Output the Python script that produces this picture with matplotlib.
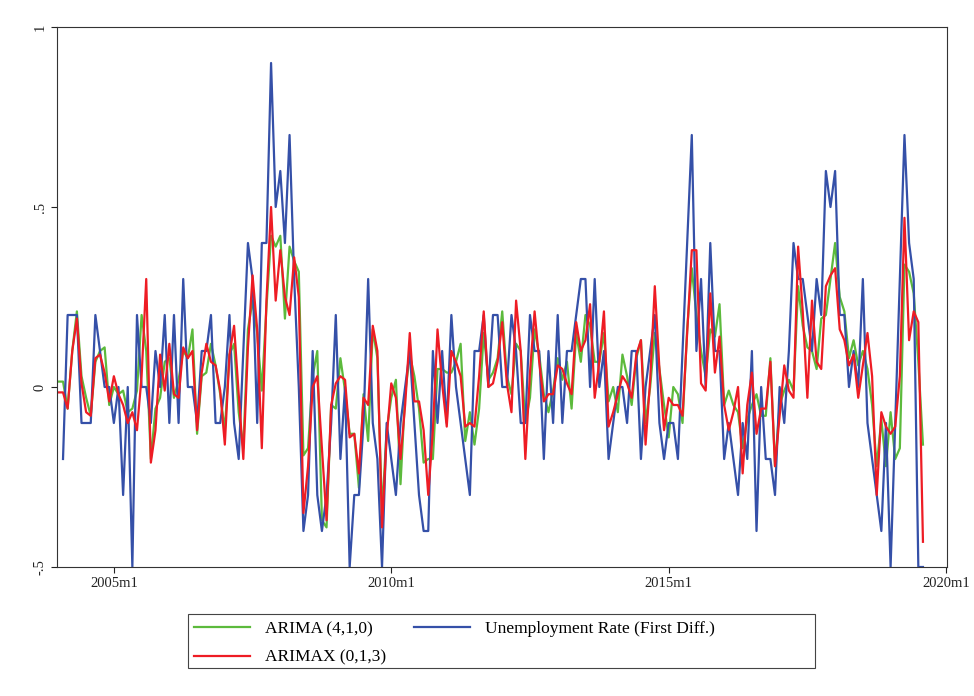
import numpy as np
import matplotlib.pyplot as plt
from matplotlib.patches import Rectangle

plt.rcParams['font.family'] = ['Liberation Serif', 'DejaVu Serif']

# monthly series, first month is 2004m1
start_year = 2004

unemp_diff = [
    np.nan, -0.2, 0.2, 0.2, 0.2, -0.1, -0.1, -0.1, 0.2, 0.1, 0.0, 0.0, -0.1, 0.0, -0.3, 0.0, -0.5, 0.2, 0.0, 0.0, -0.1, 0.1, 0.0, 0.2, -0.1,
    0.2, -0.1, 0.3, 0.0, 0.0, -0.1, 0.1, 0.1, 0.2, -0.1, -0.1, 0.0, 0.2, -0.1, -0.2, 0.1, 0.4, 0.3, -0.1, 0.4, 0.4, 0.9, 0.5, 0.6, 0.4,
    0.7, 0.3, 0.0, -0.4, -0.3, 0.1, -0.3, -0.4, -0.3, -0.1, 0.2, -0.2, 0.0, -0.5, -0.3, -0.3, -0.1, 0.3, -0.1, -0.2, -0.5, -0.1, -0.2, -0.3, -0.1,
    0.0, 0.1, -0.1, -0.3, -0.4, -0.4, 0.1, -0.1, 0.1, -0.1, 0.2, 0.0, -0.1, -0.2, -0.3, 0.1, 0.1, 0.2, 0.0, 0.2, 0.2, 0.0, 0.0, 0.2, 0.1,
    -0.1, -0.1, 0.2, 0.1, 0.1, -0.2, 0.1, -0.1, 0.2, -0.1, 0.1, 0.1, 0.2, 0.3, 0.3, 0.0, 0.3, 0.0, 0.1, -0.2, -0.1, 0.0, 0.0, -0.1, 0.1,
    0.1, -0.2, 0.0, 0.1, 0.2, -0.1, -0.2, -0.1, -0.1, -0.2, 0.1, 0.4, 0.7, 0.1, 0.3, 0.0, 0.4, 0.1, 0.1, -0.2, -0.1, -0.2, -0.3, -0.1, -0.2,
    0.1, -0.4, 0.0, -0.2, -0.2, -0.3, 0.0, -0.1, 0.1, 0.4, 0.3, 0.3, 0.2, 0.1, 0.3, 0.2, 0.6, 0.5, 0.6, 0.2, 0.2, 0.0, 0.1, 0.0, 0.3,
    -0.1, -0.2, -0.3, -0.4, -0.1, -0.5, -0.1, 0.3, 0.7, 0.4, 0.3, -0.5, -0.5,
]

arima_fit = [
    0.015, 0.015, -0.06, 0.1, 0.21, 0.03, -0.03, -0.08, 0.07, 0.1, 0.11, -0.05, 0.0, -0.02, -0.01, -0.07, -0.06, -0.01, 0.2, 0.1, -0.2, -0.06, -0.03, 0.07, 0.08,
    -0.03, 0.02, 0.1, 0.08, 0.16, -0.13, 0.03, 0.04, 0.12, 0.06, -0.02, -0.12, 0.09, 0.12, -0.07, -0.17, 0.16, 0.24, 0.15, -0.01, 0.22, 0.42, 0.39, 0.42, 0.19,
    0.39, 0.35, 0.32, -0.19, -0.17, 0.03, 0.1, -0.37, -0.39, -0.05, -0.06, 0.08, -0.01, -0.13, -0.13, -0.28, -0.02, -0.15, 0.16, 0.08, -0.35, -0.12, -0.03, 0.02, -0.27,
    -0.02, 0.09, 0.03, -0.06, -0.21, -0.2, -0.2, 0.05, 0.05, 0.04, 0.04, 0.07, 0.12, -0.15, -0.07, -0.16, -0.06, 0.15, 0.02, 0.04, 0.08, 0.21, 0.03, -0.02, 0.12,
    0.1, -0.1, -0.03, 0.16, 0.09, -0.02, -0.07, -0.01, 0.08, 0.02, 0.07, -0.06, 0.15, 0.07, 0.2, 0.17, 0.07, 0.07, 0.15, -0.04, 0.0, -0.07, 0.09, 0.03, -0.05,
    0.08, 0.13, -0.1, 0.0, 0.15, 0.05, -0.05, -0.14, 0.0, -0.02, -0.1, 0.16, 0.33, 0.2, 0.1, 0.03, 0.16, 0.14, 0.23, -0.05, -0.01, -0.05, -0.07, -0.17, -0.09,
    -0.05, -0.02, -0.08, -0.08, 0.08, -0.22, -0.05, -0.01, 0.02, -0.01, 0.28, 0.17, 0.11, 0.1, 0.05, 0.19, 0.2, 0.3, 0.4, 0.25, 0.21, 0.08, 0.13, 0.06, 0.1,
    0.05, -0.05, -0.22, -0.09, -0.22, -0.07, -0.2, -0.17, 0.34, 0.32, 0.26, 0.07, -0.16,
]

arimax_fit = [
    -0.015, -0.015, -0.06, 0.1, 0.19, 0.01, -0.07, -0.08, 0.08, 0.09, 0.04, -0.04, 0.03, -0.02, -0.05, -0.1, -0.07, -0.12, 0.03, 0.3, -0.21, -0.12, 0.09, -0.01, 0.12,
    -0.02, -0.03, 0.11, 0.08, 0.1, -0.12, 0.04, 0.12, 0.07, 0.06, -0.01, -0.16, 0.09, 0.17, -0.02, -0.2, 0.11, 0.31, 0.16, -0.17, 0.24, 0.5, 0.24, 0.38, 0.25,
    0.2, 0.36, 0.25, -0.35, -0.22, 0.0, 0.03, -0.17, -0.37, -0.05, 0.01, 0.03, 0.02, -0.14, -0.13, -0.24, -0.03, -0.05, 0.17, 0.1, -0.39, -0.14, 0.01, -0.03, -0.2,
    -0.05, 0.15, -0.04, -0.04, -0.12, -0.3, -0.12, 0.16, 0.01, -0.11, 0.1, 0.07, 0.03, -0.11, -0.1, -0.11, 0.03, 0.21, 0.0, 0.01, 0.07, 0.18, 0.01, -0.07, 0.24,
    0.1, -0.2, 0.04, 0.21, 0.07, -0.04, -0.02, -0.02, 0.06, 0.05, 0.01, -0.02, 0.18, 0.1, 0.13, 0.23, -0.03, 0.07, 0.21, -0.11, -0.07, -0.02, 0.03, 0.01, -0.03,
    0.09, 0.13, -0.16, 0.02, 0.28, 0.05, -0.12, -0.03, -0.05, -0.05, -0.08, 0.15, 0.38, 0.38, 0.01, -0.01, 0.26, 0.04, 0.14, -0.05, -0.12, -0.07, 0.0, -0.24, -0.05,
    0.04, -0.13, -0.06, -0.06, 0.07, -0.22, -0.08, 0.06, -0.01, -0.03, 0.39, 0.21, -0.03, 0.24, 0.07, 0.05, 0.28, 0.31, 0.33, 0.16, 0.13, 0.06, 0.09, -0.03, 0.06,
    0.15, 0.03, -0.3, -0.07, -0.11, -0.13, -0.11, 0.03, 0.47, 0.13, 0.21, 0.18, -0.43,
]

x_tick_labels = ["2005m1", "2010m1", "2015m1", "2020m1"]
y_ticks = [-0.5, 0, 0.5, 1]
y_tick_labels = ["-.5", "0", ".5", "1"]

months = np.arange(len(unemp_diff))
tick_pos = [(int(s[:4]) - start_year) * 12 + int(s[5:]) - 1 for s in x_tick_labels]

fig = plt.figure(figsize=(9.74, 6.96), dpi=100)
ax = fig.add_axes([57 / 974, 1 - 567 / 696, 890 / 974, 540 / 696])

l_arima, = ax.plot(months, arima_fit, color="#5cba3c", lw=1.6, label="ARIMA (4,1,0)")
l_unemp, = ax.plot(months, unemp_diff, color="#3550a8", lw=1.6, label="Unemployment Rate (First Diff.)")
l_arimax, = ax.plot(months, arimax_fit, color="#ee1c24", lw=1.6, label="ARIMAX (0,1,3)")

ax.set_xlim(-0.3, 192.2)
ax.set_ylim(-0.5, 1.0)
ax.set_xticks(tick_pos)
ax.set_xticklabels(x_tick_labels, fontsize=10.5)
ax.set_yticks(y_ticks)
ax.set_yticklabels(y_tick_labels, fontsize=10.5, rotation=90, va="center")
ax.tick_params(direction="out", length=4, width=0.8, colors="#222222")
for sp in ax.spines.values():
    sp.set_linewidth(0.8)
    sp.set_color("#333333")

leg = fig.legend(handles=[l_arima, l_arimax, l_unemp], ncol=2, frameon=False,
                 loc="upper left", bbox_to_anchor=(194 / 974, 1 - 621 / 696),
                 borderpad=0, borderaxespad=0, fontsize=12.5, handlelength=3.2,
                 handletextpad=0.9, columnspacing=1.6, labelspacing=0.72)
fig.add_artist(Rectangle((188 / 974, 1 - 668 / 696), 627 / 974, 54 / 696,
                         transform=fig.transFigure, fill=False, lw=0.8, ec="#444444"))

fig.savefig("out.png", dpi=100)
